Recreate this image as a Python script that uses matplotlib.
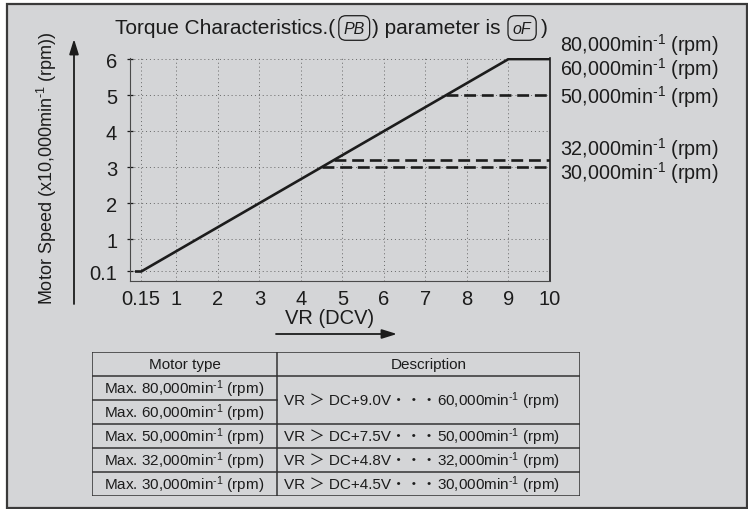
import matplotlib
matplotlib.use('Agg')
import matplotlib.pyplot as plt
from matplotlib.patches import Rectangle

plt.rcParams['font.family'] = ['Liberation Sans', 'DejaVu Sans', 'Noto Sans CJK JP']
plt.rcParams['mathtext.fontset'] = 'custom'
plt.rcParams['mathtext.rm'] = 'Liberation Sans'
plt.rcParams['mathtext.it'] = 'Liberation Sans:italic'

W, H = 748, 510
BG = '#d4d5d7'
INK = '#1c1c1c'
MIN1 = r'min$^{\mathregular{‐1}}$'

# speed curve: VR (DCV) against speed (x10,000 min-1)
vr_curve = [0.0, 0.15, 9.0, 10.0]
speed_curve = [0.1, 0.1, 6.0, 6.0]

# capped motor types: VR where the cap starts and the capped speed
limit_vr = [7.5, 4.8, 4.5]
limit_speed = [5.0, 3.2, 3.0]

xticks = [0.15, 1, 2, 3, 4, 5, 6, 7, 8, 9, 10]
yticks = [0.1, 1, 2, 3, 4, 5, 6]

speed_labels = ['80,000' + MIN1 + ' (rpm)', '60,000' + MIN1 + ' (rpm)',
                '50,000' + MIN1 + ' (rpm)', '32,000' + MIN1 + ' (rpm)',
                '30,000' + MIN1 + ' (rpm)']
speed_label_y = [6.43, 5.74, 4.97, 3.54, 2.86]

table_header = ['Motor type', 'Description']
motor_types = ['Max. 80,000' + MIN1 + ' (rpm)', 'Max. 60,000' + MIN1 + ' (rpm)',
               'Max. 50,000' + MIN1 + ' (rpm)', 'Max. 32,000' + MIN1 + ' (rpm)',
               'Max. 30,000' + MIN1 + ' (rpm)']
desc_volts = ['VR ＞ DC+9.0V・・・', 'VR ＞ DC+7.5V・・・',
              'VR ＞ DC+4.8V・・・', 'VR ＞ DC+4.5V・・・']
desc_speeds = ['60,000' + MIN1 + ' (rpm)', '50,000' + MIN1 + ' (rpm)',
               '32,000' + MIN1 + ' (rpm)', '30,000' + MIN1 + ' (rpm)']
description_span = [2, 1, 1, 1]


def px(x, y):
    """pixel position from the top left -> figure fraction"""
    return x / W, 1 - y / H


fig = plt.figure(figsize=(W / 100, H / 100), dpi=100, facecolor='white')
fig.add_artist(Rectangle((6.5 / W, 1.5 / H), 740 / W, 504 / H,
                         transform=fig.transFigure, facecolor=BG,
                         edgecolor='#3a3a3a', lw=1.6, zorder=-10))

# --- chart ---
ax = fig.add_axes([130 / W, 1 - 281.5 / H, 420 / W, 222.5 / H])
ax.patch.set_alpha(0)
ax.plot(vr_curve, speed_curve, color=INK, lw=1.9, solid_capstyle='butt', zorder=5)
for v, s in zip(limit_vr, limit_speed):
    ax.plot([v, 10.0], [s, s], color=INK, lw=1.9, linestyle=(0, (4.5, 2.2)), zorder=4)

ax.set_xlim(-0.12, 10.0)
ax.set_ylim(-0.15, 6.03)
ax.set_xticks(xticks)
ax.set_xticklabels([f'{t:g}' for t in xticks])
ax.set_yticks(yticks)
ax.set_yticklabels([f'{t:g}' for t in yticks])
ax.tick_params(axis='x', length=0, pad=6, labelsize=14.5, colors=INK)
ax.tick_params(axis='y', direction='inout', length=4.5, width=0.9, pad=7,
               labelsize=14.5, colors=INK)
ax.grid(True, color='#666666', lw=0.7, linestyle=(0, (1, 3)))
ax.spines['top'].set_visible(False)
ax.spines['left'].set_color('#4a4a4a')
ax.spines['bottom'].set_color('#4a4a4a')
ax.spines['right'].set_color(INK)
ax.spines['right'].set_linewidth(1.2)

for lab, y in zip(speed_labels, speed_label_y):
    ax.text(1.025, y, lab, transform=ax.get_yaxis_transform(), fontsize=14.2,
            ha='left', va='center', color=INK, clip_on=False)

# axis labels with arrows
fig.text(*px(47, 168), 'Motor Speed (x10,000' + MIN1 + ' (rpm))', rotation=90,
         fontsize=13, ha='center', va='center', color=INK)
fig.text(*px(330, 318), 'VR (DCV)', fontsize=14.5, ha='center', va='center', color=INK)
arrow = dict(arrowstyle='-|>,head_length=0.9,head_width=0.28', color=INK, lw=1.3,
             shrinkA=0, shrinkB=0)
fig.add_artist(plt.Annotation('', xy=(74, H - 40), xytext=(74, H - 305),
                              xycoords='figure pixels', arrowprops=arrow))
fig.add_artist(plt.Annotation('', xy=(397, H - 335), xytext=(276, H - 335),
                              xycoords='figure pixels', arrowprops=arrow))

# title, with the two panel codes in rounded boxes
code_box = dict(boxstyle='round,pad=0.3,rounding_size=0.45', fc='none', ec=INK, lw=0.9)
t1 = fig.text(*px(115, 29), 'Torque Characteristics.(', fontsize=15,
              ha='left', va='center', color=INK)
t2 = ax.annotate('PB', xy=(1, 0.5), xycoords=t1, xytext=(6, 0), textcoords='offset points',
                 fontsize=11.5, style='italic', ha='left', va='center', color=INK,
                 bbox=code_box, annotation_clip=False)
t3 = ax.annotate(') parameter is', xy=(1, 0.5), xycoords=t2, xytext=(5, 0),
                 textcoords='offset points', fontsize=15, ha='left', va='center',
                 color=INK, annotation_clip=False)
t4 = ax.annotate('oF', xy=(1, 0.5), xycoords=t3, xytext=(9, 0), textcoords='offset points',
                 fontsize=11.5, style='italic', ha='left', va='center', color=INK,
                 bbox=code_box, annotation_clip=False)
ax.annotate(')', xy=(1, 0.5), xycoords=t4, xytext=(7, 0), textcoords='offset points',
            fontsize=15, ha='left', va='center', color=INK, annotation_clip=False)

# --- table ---
tab = fig.add_axes([92 / W, 1 - 497 / H, 488 / W, 144 / H])
tab.set_xlim(0, 488)
tab.set_ylim(6, 0)
tab.axis('off')
split = 185
line = dict(color='#333333', lw=1.1)
for r in range(7):
    if r == 2:
        tab.plot([0, split], [r, r], **line)
    else:
        tab.plot([0, 488], [r, r], **line)
for x in (0, split, 488):
    tab.plot([x, x], [0, 6], **line)

fs = 11
tab.text(split / 2, 0.5, table_header[0], fontsize=fs, ha='center', va='center', color=INK)
tab.text((split + 488) / 2, 0.5, table_header[1], fontsize=fs, ha='center', va='center', color=INK)
for i, m in enumerate(motor_types):
    tab.text(split / 2, i + 1.5, m, fontsize=fs, ha='center', va='center', color=INK)
row = 1
for volts, speed, span in zip(desc_volts, desc_speeds, description_span):
    # the voltage part holds CJK signs, so it is set apart from the mathtext speed
    tv = tab.text(192, row + span / 2, volts, fontsize=fs, ha='left', va='center', color=INK)
    tab.annotate(speed, xy=(1, 0.5), xycoords=tv, xytext=(0, 0), textcoords='offset points',
                 fontsize=fs, ha='left', va='center', color=INK)
    row += span

fig.savefig('out.png', dpi=100, facecolor='white')
